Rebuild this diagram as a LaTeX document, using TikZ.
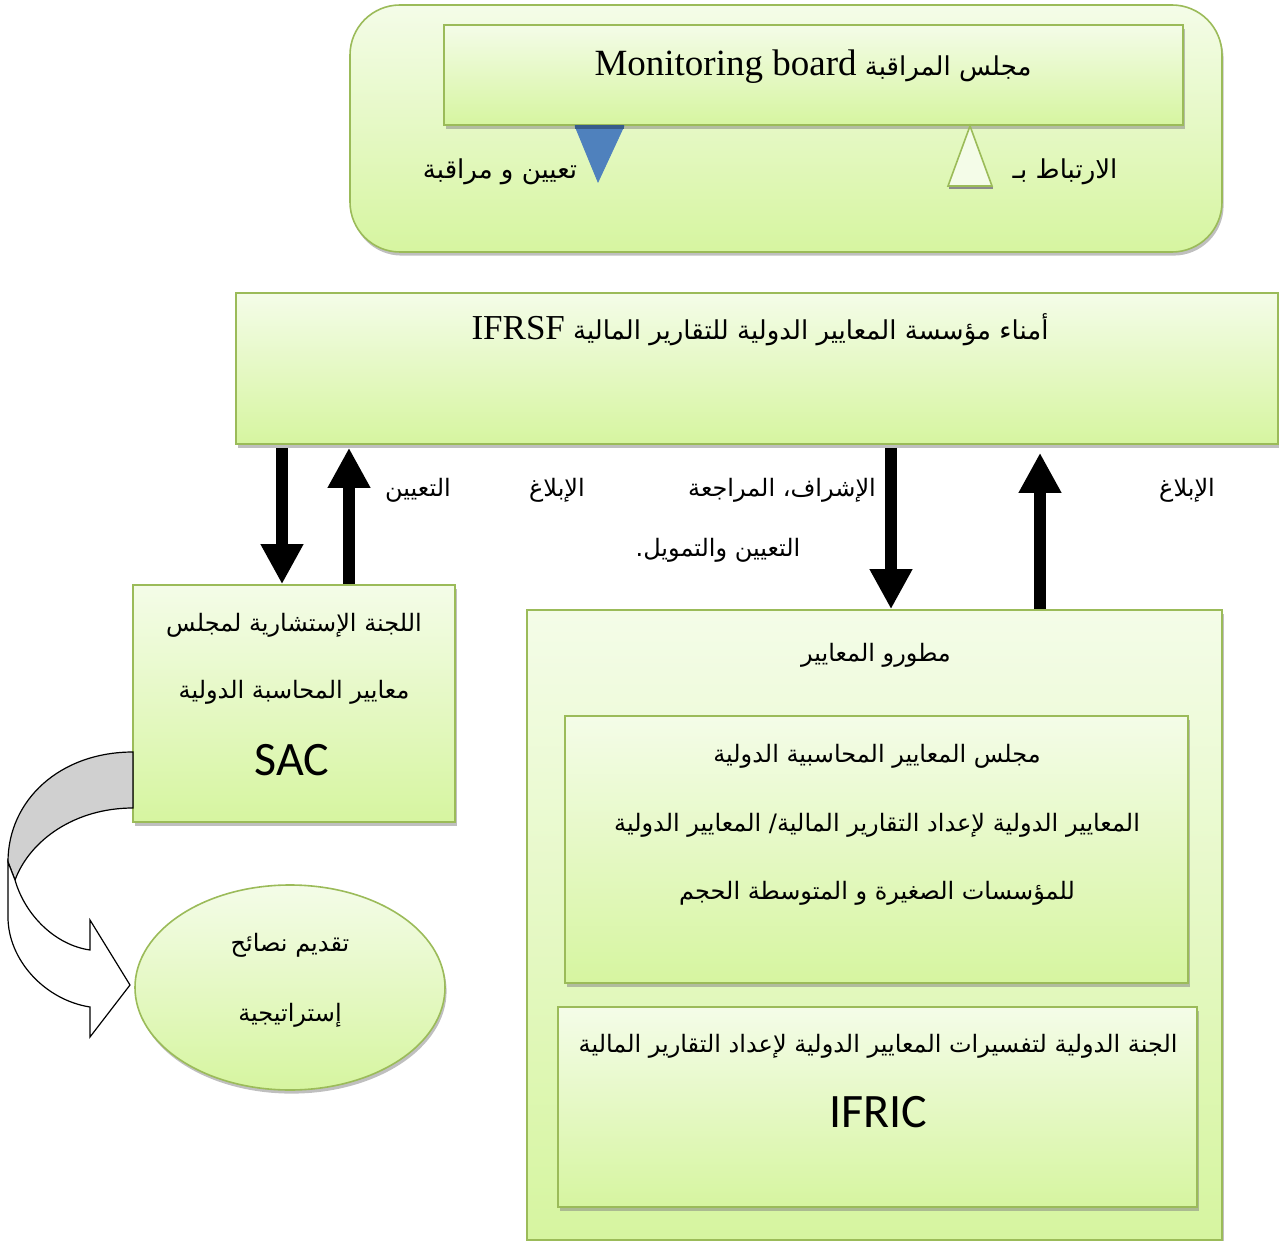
\documentclass[tikz,border=0pt]{standalone}
\usepackage{fontspec}
\setmainfont{Liberation Serif}
\newfontfamily\arabicfont[Script=Arabic]{DejaVu Sans}
\newfontfamily\calfont{Carlito}
\TeXXeTstate=1
\usetikzlibrary{arrows.meta,shadows,shapes.geometric}
\definecolor{gtop}{HTML}{F4FCE8}
\definecolor{gbot}{HTML}{D6F5A0}
\definecolor{gborder}{HTML}{9BBB59}
\definecolor{tblue}{HTML}{4F81BD}
\definecolor{tbluedark}{HTML}{385D8A}
\definecolor{bandgray}{HTML}{D0D0D0}
\begin{document}
\begin{tikzpicture}[x=0.5pt,y=-0.5pt,
 gbox/.style={draw=gborder, line width=0.8pt, top color=gtop, bottom color=gbot,
   drop shadow={shadow xshift=0.8pt,shadow yshift=-1.8pt,fill=black!50}, inner sep=0pt},
 lbl/.style={font=\arabicfont\fontsize{12}{14}\selectfont, inner sep=0pt},
 latin/.style={font=\fontsize{18}{20}\selectfont},
 sanslbl/.style={font=\calfont\fontsize{24}{26}\selectfont, inner sep=0pt},
 bigarrow/.style={line width=6pt, -{Triangle[width=20pt,length=20pt]}},
 band/.style={draw=black, line width=0.6pt},
]
\useasboundingbox (0,0) rectangle (1279,1241);

% ---------- top group ----------
\node[gbox, rounded corners=25pt, minimum width=436pt, minimum height=123.5pt] (outer) at (786,128.5) {};
\node[gbox, minimum width=369.5pt, minimum height=50pt] (mon) at (813.5,75) {};
\node[lbl, font=\arabicfont\fontsize{13}{15}\selectfont] (montxt) at (813,67)
  {\beginR مجلس المراقبة \beginL{\rmfamily\fontsize{18.5}{20}\selectfont Monitoring board}\endL\endR};

% blue inverted triangle
\draw[fill=tblue, draw=tblue] (575,126) -- (624,126) -- (598,182) -- cycle;
\draw[tbluedark, line width=2pt] (575,127) -- (624,127);
% light triangle
\draw[fill=gtop, draw=gborder, line width=0.8pt] (970,126) -- (992,186) -- (948,186) -- cycle;
\draw[black!45, line width=1pt] (949,188) -- (993,188);

\node[lbl, font=\arabicfont\fontsize{13}{15}\selectfont] (lab1) at (500,172) {\beginR تعيين و مراقبة\endR};
\node[lbl, font=\arabicfont\fontsize{13}{15}\selectfont] (lab2) at (1065,172) {\beginR الارتباط بـ\endR};

% ---------- IFRSF ----------
\node[gbox, minimum width=521pt, minimum height=75.5pt] (ifrsf) at (757,368.5) {};
\node[lbl, font=\arabicfont\fontsize{13}{15}\selectfont] (ifrsftxt) at (760,330)
  {\beginR أمناء مؤسسة المعايير الدولية للتقارير المالية \beginL{\rmfamily\fontsize{17.5}{20}\selectfont IFRSF}\endL\endR};

% ---------- SAC ----------
\node[gbox, minimum width=161pt, minimum height=118.5pt] (sac) at (294,703.5) {};
\node[lbl] (sac1) at (294,625) {\beginR اللجنة الإستشارية لمجلس\endR};
\node[lbl] (sac2) at (294,692) {\beginR معايير المحاسبة الدولية\endR};
\node[sanslbl] (sac3) at (292,760) {SAC};

% ---------- developers ----------
\node[gbox, minimum width=347.5pt, minimum height=315pt] (dev) at (874.5,925) {};
\node[lbl] (devtxt) at (876,655) {\beginR مطورو المعايير\endR};
\node[gbox, minimum width=311.5pt, minimum height=133.5pt] (iasb) at (876.5,849.5) {};
\node[lbl] (iasb1) at (877,756) {\beginR مجلس المعايير المحاسبية الدولية\endR};
\node[lbl] (iasb2) at (877,825) {\beginR المعايير الدولية لإعداد التقارير المالية/ المعايير الدولية\endR};
\node[lbl] (iasb3) at (877,893) {\beginR للمؤسسات الصغيرة و المتوسطة الحجم\endR};
\node[gbox, minimum width=319.5pt, minimum height=100pt] (ifric) at (877.5,1107) {};
\node[lbl] (ifric1) at (878,1046) {\beginR الجنة الدولية لتفسيرات المعايير الدولية لإعداد التقارير المالية\endR};
\node[sanslbl] (ifric2) at (878,1112) {IFRIC};

% ---------- ellipse ----------
\node[gbox, ellipse, minimum width=155pt, minimum height=102.5pt] (adv) at (290,987.5) {};
\node[lbl] (adv1) at (290,945) {\beginR تقديم نصائح\endR};
\node[lbl] (adv2) at (290,1015) {\beginR إستراتيجية\endR};

% ---------- vertical arrows ----------
\coordinate (xa) at (282,0);
\coordinate (xb) at (349,0);
\coordinate (xc) at (891,0);
\coordinate (xd) at (1040,0);
\draw[bigarrow] ([yshift=-1.5pt]xa |- ifrsf.south) -- (xa |- sac.north);
\draw[bigarrow] (xb |- sac.north) -- ([yshift=-1.5pt]xb |- ifrsf.south);
\draw[bigarrow] ([yshift=-1.5pt]xc |- ifrsf.south) -- (xc |- dev.north);
\draw[bigarrow] (xd |- dev.north) -- ([yshift=-4pt]xd |- ifrsf.south);

\node[lbl] (t1) at (418,490) {\beginR التعيين\endR};
\node[lbl] (t2) at (557,490) {\beginR الإبلاغ\endR};
\node[lbl] (t3) at (782,490) {\beginR الإشراف، المراجعة\endR};
\node[lbl] (t4) at (718,550) {\beginR التعيين والتمويل.\endR};
\node[lbl] (t5) at (1187,490) {\beginR الإبلاغ\endR};

% ---------- curved arrow from SAC to ellipse ----------
\draw[band, fill=bandgray] (133,752) .. controls (60,752) and (8,800) .. (8,862)
   -- (15,880) .. controls (30,840) and (75,808) .. (133,808) -- cycle;
\draw[band, fill=white] (8,862) -- (8,917) .. controls (8,960) and (45,1000) .. (90,1007)
   -- (90,1037) -- (130,985) -- (90,920) -- (90,950)
   .. controls (55,945) and (25,915) .. (15,880) -- cycle;
\end{tikzpicture}
\end{document}
